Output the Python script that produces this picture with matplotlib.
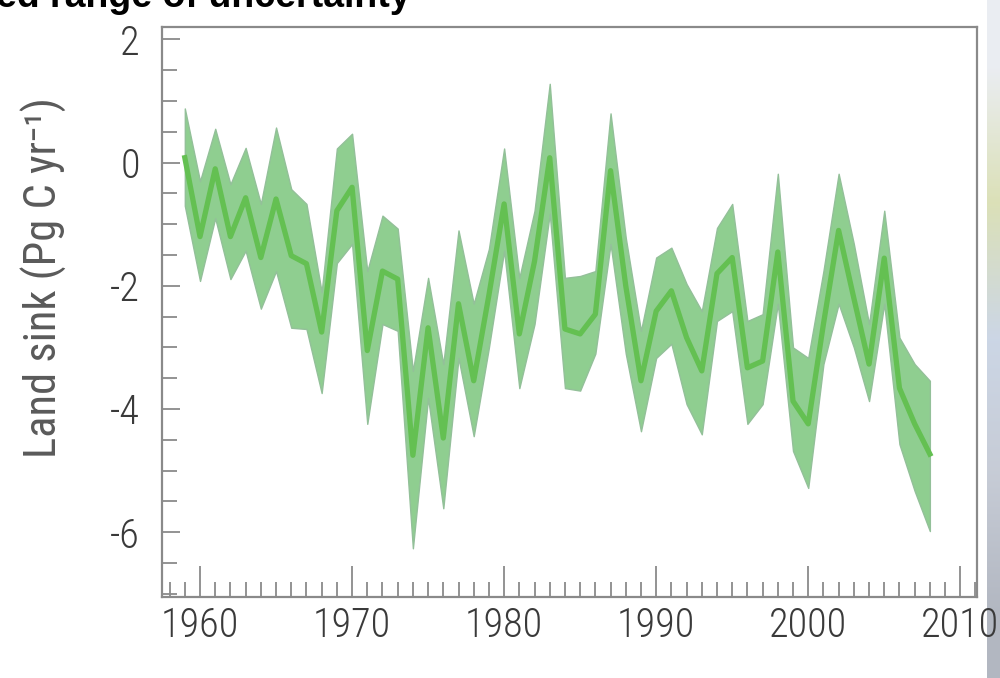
import numpy as np
import matplotlib
matplotlib.use("Agg")
import matplotlib.pyplot as plt
from matplotlib.ticker import MultipleLocator
from matplotlib import font_manager

# land sink estimate 1959-2008 and its uncertainty band (Pg C / yr)
years = list(range(1959, 2009))
land_sink = [0.08, -1.2, -0.1, -1.2, -0.57, -1.54, -0.59, -1.51, -1.64, -2.75,
             -0.78, -0.4, -3.05, -1.76, -1.89, -4.75, -2.68, -4.47, -2.29, -3.54,
             -2.15, -0.67, -2.78, -1.6, 0.08, -2.7, -2.78, -2.46, -0.13, -2.0,
             -3.54, -2.41, -2.08, -2.84, -3.38, -1.8, -1.54, -3.33, -3.22, -1.45,
             -3.87, -4.24, -2.62, -1.1, -2.2, -3.27, -1.55, -3.66, -4.24, -4.73]
upper = [0.88, -0.3, 0.55, -0.35, 0.24, -0.67, 0.57, -0.43, -0.67, -2.1,
         0.23, 0.47, -1.76, -0.86, -1.07, -3.38, -1.87, -3.27, -1.1, -2.29,
         -1.4, 0.23, -1.87, -0.78, 1.28, -1.87, -1.84, -1.76, 0.8, -1.22,
         -2.73, -1.54, -1.38, -1.97, -2.41, -1.06, -0.67, -2.57, -2.46, -0.18,
         -3.0, -3.17, -1.76, -0.18, -1.32, -2.62, -0.78, -2.84, -3.27, -3.54]
lower = [-0.7, -1.92, -0.9, -1.89, -1.43, -2.37, -1.76, -2.68, -2.7, -3.74,
         -1.63, -1.32, -4.24, -2.62, -2.73, -6.26, -3.82, -5.61, -3.17, -4.44,
         -3.0, -1.43, -3.66, -2.62, -0.83, -3.66, -3.7, -3.1, -1.32, -3.1,
         -4.36, -3.17, -2.94, -3.92, -4.41, -2.57, -2.41, -4.24, -3.92, -2.29,
         -4.68, -5.28, -3.27, -2.29, -3.0, -3.87, -2.29, -4.57, -5.33, -5.98]

x_ticks = [1960, 1970, 1980, 1990, 2000, 2010]
y_ticks = [-6, -4, -2, 0, 2]

# the original uses a thin, narrow face - pick the closest one installed
installed = {f.name for f in font_manager.fontManager.ttflist}
axis_font = 'DejaVu Sans'
for name in ['Liberation Sans Narrow', 'DejaVu Sans Condensed', 'Roboto Condensed', 'Roboto']:
    if name in installed:
        axis_font = name
        break

plt.rcParams['font.family'] = [axis_font, 'DejaVu Sans']
plt.rcParams['font.weight'] = 'light'
plt.rcParams['axes.unicode_minus'] = False

fig = plt.figure(figsize=(10, 6.78), dpi=100)

# strip of the slide background on the right edge
strip = fig.add_axes([0.987, 0.0, 0.013, 1.0])
strip.imshow(np.array([[[0.92, 0.93, 0.95]], [[0.86, 0.88, 0.72]],
                       [[0.80, 0.84, 0.90]], [[0.78, 0.80, 0.84]],
                       [[0.70, 0.72, 0.76]]]),
             aspect='auto', interpolation='bilinear')
strip.axis('off')
strip.set_zorder(0)

ax = fig.add_axes([0.162, 0.1195, 0.815, 0.8405])
ax.set_zorder(1)

ax.fill_between(years, lower, upper, color='#8fce90', edgecolor='#93c099',
                linewidth=1.0, zorder=2)
ax.plot(years, land_sink, color='#64c052', linewidth=3.8, zorder=3)

ax.set_xlim(1957.5, 2011.1)
ax.set_ylim(-7.05, 2.2)

ax.set_xticks(x_ticks)
ax.set_yticks(y_ticks)
ax.xaxis.set_minor_locator(MultipleLocator(1))
ax.yaxis.set_minor_locator(MultipleLocator(0.5))

grey = '#8a8a8a'
ax.tick_params(which='both', direction='in', color=grey, width=1.3)
ax.tick_params(axis='x', which='major', length=22, pad=7, labelsize=29,
               labelcolor='#3a3a3a')
ax.tick_params(axis='x', which='minor', length=11)
ax.tick_params(axis='y', which='major', length=13, pad=16, labelsize=29,
               labelcolor='#3a3a3a')
ax.tick_params(axis='y', which='minor', length=11)

for s in ax.spines.values():
    s.set_color(grey)
    s.set_linewidth(1.6)

ax.set_ylabel('Land sink (Pg C yr\u207b\u00b9)', fontsize=32, color='#5a5a5a')
ax.yaxis.set_label_coords(-0.117, 0.56)

# cut-off slide title at the very top
fig.text(-0.004, 0.989, 'ed range of uncertainty', fontsize=27,
         fontweight='bold', family=['Liberation Sans', 'DejaVu Sans'],
         color='black', ha='left', va='baseline')

fig.savefig('out.png', dpi=100)
